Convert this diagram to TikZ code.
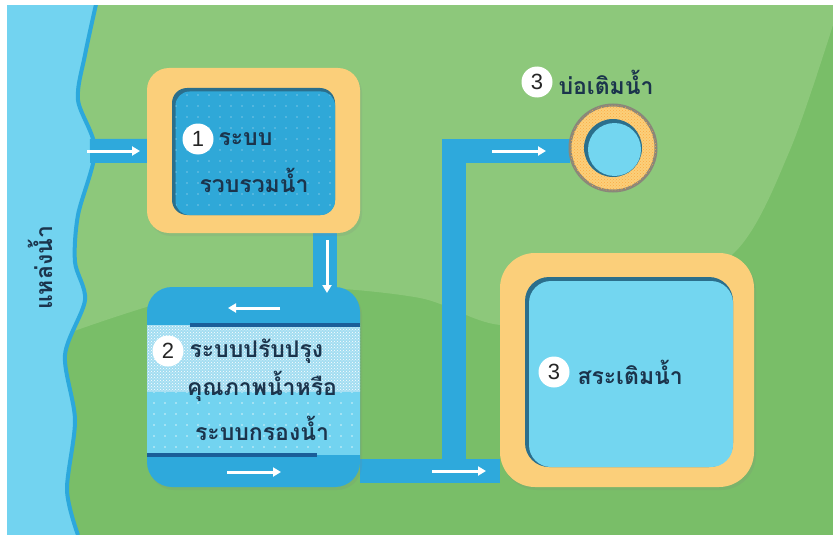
\documentclass[tikz,border=0pt]{standalone}
\usepackage{fontspec}
\newfontfamily\thaifont[Script=Thai]{Loma}
\newfontfamily\numfont{Liberation Sans}
\usetikzlibrary{positioning,arrows.meta,patterns,patterns.meta,shadows}

\definecolor{grasslight}{HTML}{8DC87B}
\definecolor{grassdark}{HTML}{79BE68}
\definecolor{water}{HTML}{72D3F0}
\definecolor{shore}{HTML}{2CA8DC}
\definecolor{pipeblue}{HTML}{2EA9DC}
\definecolor{deep}{HTML}{2FA8D8}
\definecolor{rim}{HTML}{2B6F8C}
\definecolor{sand}{HTML}{FBCF7A}
\definecolor{stone}{HTML}{8A877A}
\definecolor{pondblue}{HTML}{73D6F0}
\definecolor{seam}{HTML}{1A5E99}
\definecolor{mesh}{HTML}{A2DDF1}
\definecolor{ink}{HTML}{1B344C}

\pgfdeclarelayer{ground}
\pgfdeclarelayer{pipes}
\pgfsetlayers{ground,pipes,main}

\tikzdeclarepattern{name=sparsedots, type=uncolored,
  bounding box={(-5pt,-5pt) and (5pt,5pt)}, tile size={(11pt,11pt)},
  code={\fill (0pt,0pt) circle (0.9pt);}}

\begin{document}
\begin{tikzpicture}[x=1pt, y=-1pt,
  every node/.style={inner sep=0pt, outer sep=0pt},
  frame/.style={fill=sand, rounded corners=22pt,
    drop shadow={shadow xshift=2pt, shadow yshift=-3pt, opacity=.15}},
  wellrim/.style={fill=rim, rounded corners=15pt},
  surface/.style={rounded corners=14pt},
  pipe/.style={draw=pipeblue, line width=24pt, line join=miter},
  flow/.style={draw=white, line width=3pt, -{Triangle[length=8pt,width=9pt]}},
  badge/.style={circle, fill=white, minimum size=31pt, text=black!85,
    font=\numfont\fontsize{22}{22}\selectfont},
  thaitext/.style={text=ink, font=\thaifont\bfseries\fontsize{23}{28}\selectfont}]
\useasboundingbox (0,0) rectangle (833,535);

\begin{pgfonlayer}{ground}
\fill[grassdark] (0,0) rectangle (833,535);
\fill[grasslight] (0,0) -- (833,0) -- plot[smooth] coordinates {(833,25) (790,150) (735,252) (620,320) (500,325) (420,298) (300,287) (180,298) (60,336)} -- (0,336) -- cycle;
\fill[water] (0,0) -- plot[smooth] coordinates {(97,0) (85,55) (78,100) (95,150) (78,215) (75,262) (85,300) (65,355) (75,420) (67,490) (78,535)} -- (0,535) -- cycle;
\draw[shore, line width=4pt] plot[smooth] coordinates {(97,0) (85,55) (78,100) (95,150) (78,215) (75,262) (85,300) (65,355) (75,420) (67,490) (78,535)};
\fill[white] (0,0) rectangle (833,5);
\fill[white] (0,0) rectangle (7,535);
\end{pgfonlayer}

\coordinate (intake) at (90,151);
\coordinate (junc) at (454,471);
\coordinate (riser) at (454,151);

\node[frame, minimum width=213pt, minimum height=165pt] (collect) at (253.5,150.5) {};
\node[wellrim, minimum width=163pt, minimum height=127pt] (collectrim) at (253.5,151.5) {};
\node[surface, fill=deep, minimum width=159.5pt, minimum height=123.5pt,
  postaction={pattern=sparsedots, pattern color=deep!65!white}] (collectwater) at (255.25,153.25) {};

\node[fill=pipeblue, rounded corners=25pt, minimum width=213pt, minimum height=200pt,
  drop shadow={shadow xshift=2pt, shadow yshift=-3pt, opacity=.15}] (treat) at (253.5,387) {};
\fill[mesh, postaction={pattern=crosshatch dots, pattern color=white}] (treat.west |- 0,325) rectangle (treat.east |- 0,392);
\fill[water, postaction={pattern=sparsedots, pattern color=white!70!water}] (treat.west |- 0,392) rectangle (treat.east |- 0,455);
\draw[seam, line width=4pt] (190,325) -- (treat.east |- 0,325);
\draw[seam, line width=4pt] (treat.west |- 0,455) -- (317,455);

\node[circle, fill=sand, draw=stone, line width=3pt, minimum size=86pt,
  postaction={pattern=crosshatch dots, pattern color=orange!45!sand}] (pond) at (613,148) {};
\node[circle, fill=rim, minimum size=58pt] (pondrim) at (613,148) {};
\node[circle, fill=pondblue, minimum size=53pt] (pondwater) at (614.5,149.5) {};

\node[frame, rounded corners=35pt, minimum width=254pt, minimum height=234pt] (pool) at (627,370) {};
\node[wellrim, rounded corners=24pt, minimum width=208pt, minimum height=190pt] (poolrim) at (629,372) {};
\node[surface, rounded corners=22pt, fill=pondblue, minimum width=204pt, minimum height=186pt] (poolwater) at (631,374) {};

\begin{pgfonlayer}{pipes}
\draw[pipe] (intake) -- (collect);
\draw[pipe] ([xshift=71.5pt]collect.south) -- ([xshift=71.5pt]treat.north);
\draw[pipe] (treat.east |- junc) -- (pool.west |- junc);
\draw[pipe] (junc) -- (riser) -- (pond.west |- riser);
\end{pgfonlayer}

\draw[flow] (87,151) -- (140,151);
\draw[flow] (327,240) -- (327,293);
\draw[flow] (280,308) -- (228,308);
\draw[flow] (227,472) -- (281,472);
\draw[flow] (432,471) -- (486,471);
\draw[flow] (492,151) -- (546,151);

\node[thaitext, rotate=90] (source) at (40,268) {แหล่งน้ำ};

\node[badge] (b1) at (198,139) {1};
\node[thaitext, right=5pt of b1] (t1) {ระบบ};
\node[thaitext] (t1b) at (254,180) {รวบรวมน้ำ};

\node[badge] (b2) at (168,351) {2};
\node[thaitext, right=6pt of b2] (t2) {ระบบปรับปรุง};
\node[thaitext] (t2b) at (262,386) {คุณภาพน้ำหรือ};
\node[thaitext] (t2c) at (262,428) {ระบบกรองน้ำ};

\node[badge] (b3) at (537,82) {3};
\node[thaitext, right=6pt of b3] (t3) {บ่อเติมน้ำ};

\node[badge] (b4) at (554,372) {3};
\node[thaitext, right=8pt of b4] (t4) {สระเติมน้ำ};
\end{tikzpicture}
\end{document}
